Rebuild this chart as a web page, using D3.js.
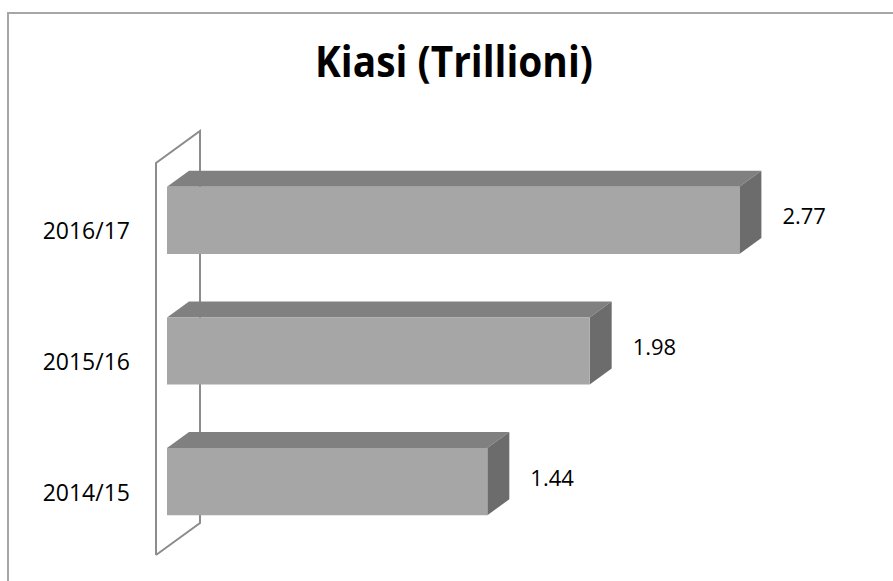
<!DOCTYPE html>
<html>
<head>
<meta charset="utf-8">
<script src="https://cdn.jsdelivr.net/npm/d3@7"></script>
<style>
  body { margin: 0; background: #fff; }
  text { font-family: "Open Sans", "Noto Sans", sans-serif; fill: #000; }
</style>
</head>
<body>
<script>
const width = 893,
      height = 581;

// data, top row first
const categories = ["2016/17", "2015/16", "2014/15"];
const values = [2.77, 1.98, 1.44];
const valueLabels = ["2.77", "1.98", "1.44"];
const title = "Kiasi (Trillioni)";

// oblique depth of the 3d plot area
const depthX = 44,
      depthY = -32;

const svg = d3.select("body")
    .append("svg")
    .attr("width", width)
    .attr("height", height);

// chart border (runs off the right/bottom edge like the original)
svg.append("rect")
    .attr("x", 8)
    .attr("y", 13)
    .attr("width", width + 20)
    .attr("height", height + 20)
    .attr("fill", "none")
    .attr("stroke", "#a6a6a6")
    .attr("stroke-width", 2);

const x = d3.scaleLinear()
    .domain([-0.25, 3])
    .range([156, 772]);

const y = d3.scaleBand()
    .domain(categories)
    .range([163, 555])
    .paddingInner(0.486)
    .paddingOuter(0.243);

// point in the front plane pushed back by a fraction of the depth
const pt = (px, py, d) => [px + d * depthX, py + d * depthY];

// wall behind category axis
const x0 = x.range()[0], yt = y.range()[0], yb = y.range()[1];
const wall = [pt(x0, yb, 0), pt(x0, yt, 0), pt(x0, yt, 1), pt(x0, yb, 1), pt(x0, yb, 0)];
svg.append("path")
    .attr("d", d3.line()(wall))
    .attr("fill", "none")
    .attr("stroke", "#8c8c8c")
    .attr("stroke-width", 2);

const bars = svg.append("g").selectAll("g")
    .data(categories)
    .enter().append("g");

const d1 = 0.25, d2 = 0.75;

// top face
bars.append("path")
    .attr("fill", "#808080")
    .attr("d", (c, i) => {
      const a = x(x.domain()[0]), b = x(values[i]), t = y(c);
      return d3.line()([pt(a, t, d1), pt(b, t, d1), pt(b, t, d2), pt(a, t, d2)]) + "Z";
    });

// side face
bars.append("path")
    .attr("fill", "#6c6c6c")
    .attr("d", (c, i) => {
      const b = x(values[i]), t = y(c), u = y(c) + y.bandwidth();
      return d3.line()([pt(b, t, d1), pt(b, t, d2), pt(b, u, d2), pt(b, u, d1)]) + "Z";
    });

// front face
bars.append("path")
    .attr("fill", "#a6a6a6")
    .attr("d", (c, i) => {
      const a = x(x.domain()[0]), b = x(values[i]), t = y(c), u = y(c) + y.bandwidth();
      return d3.line()([pt(a, t, d1), pt(b, t, d1), pt(b, u, d1), pt(a, u, d1)]) + "Z";
    });

// value labels
bars.append("text")
    .attr("x", (c, i) => pt(x(values[i]), 0, 0.5)[0] + 32)
    .attr("y", c => pt(0, y(c) + y.bandwidth() / 2, 0.5)[1] + 3)
    .attr("dominant-baseline", "central")
    .attr("font-size", 22)
    .text((c, i) => valueLabels[i]);

// category labels
svg.append("g").selectAll("text")
    .data(categories)
    .enter().append("text")
    .attr("x", 130)
    .attr("y", c => y(c) + y.bandwidth() / 2 + 2)
    .attr("text-anchor", "end")
    .attr("dominant-baseline", "central")
    .attr("font-size", 23)
    .text(c => c);

// title, squeezed to the width of the original
const titleText = svg.append("text")
    .attr("text-anchor", "middle")
    .attr("font-size", 43)
    .attr("font-weight", "bold")
    .text(title);
const tw = titleText.node().getComputedTextLength();
const sx = Math.min(1, 278 / tw);
titleText.attr("transform", `translate(454,77) scale(${sx},1)`);
</script>
</body>
</html>
